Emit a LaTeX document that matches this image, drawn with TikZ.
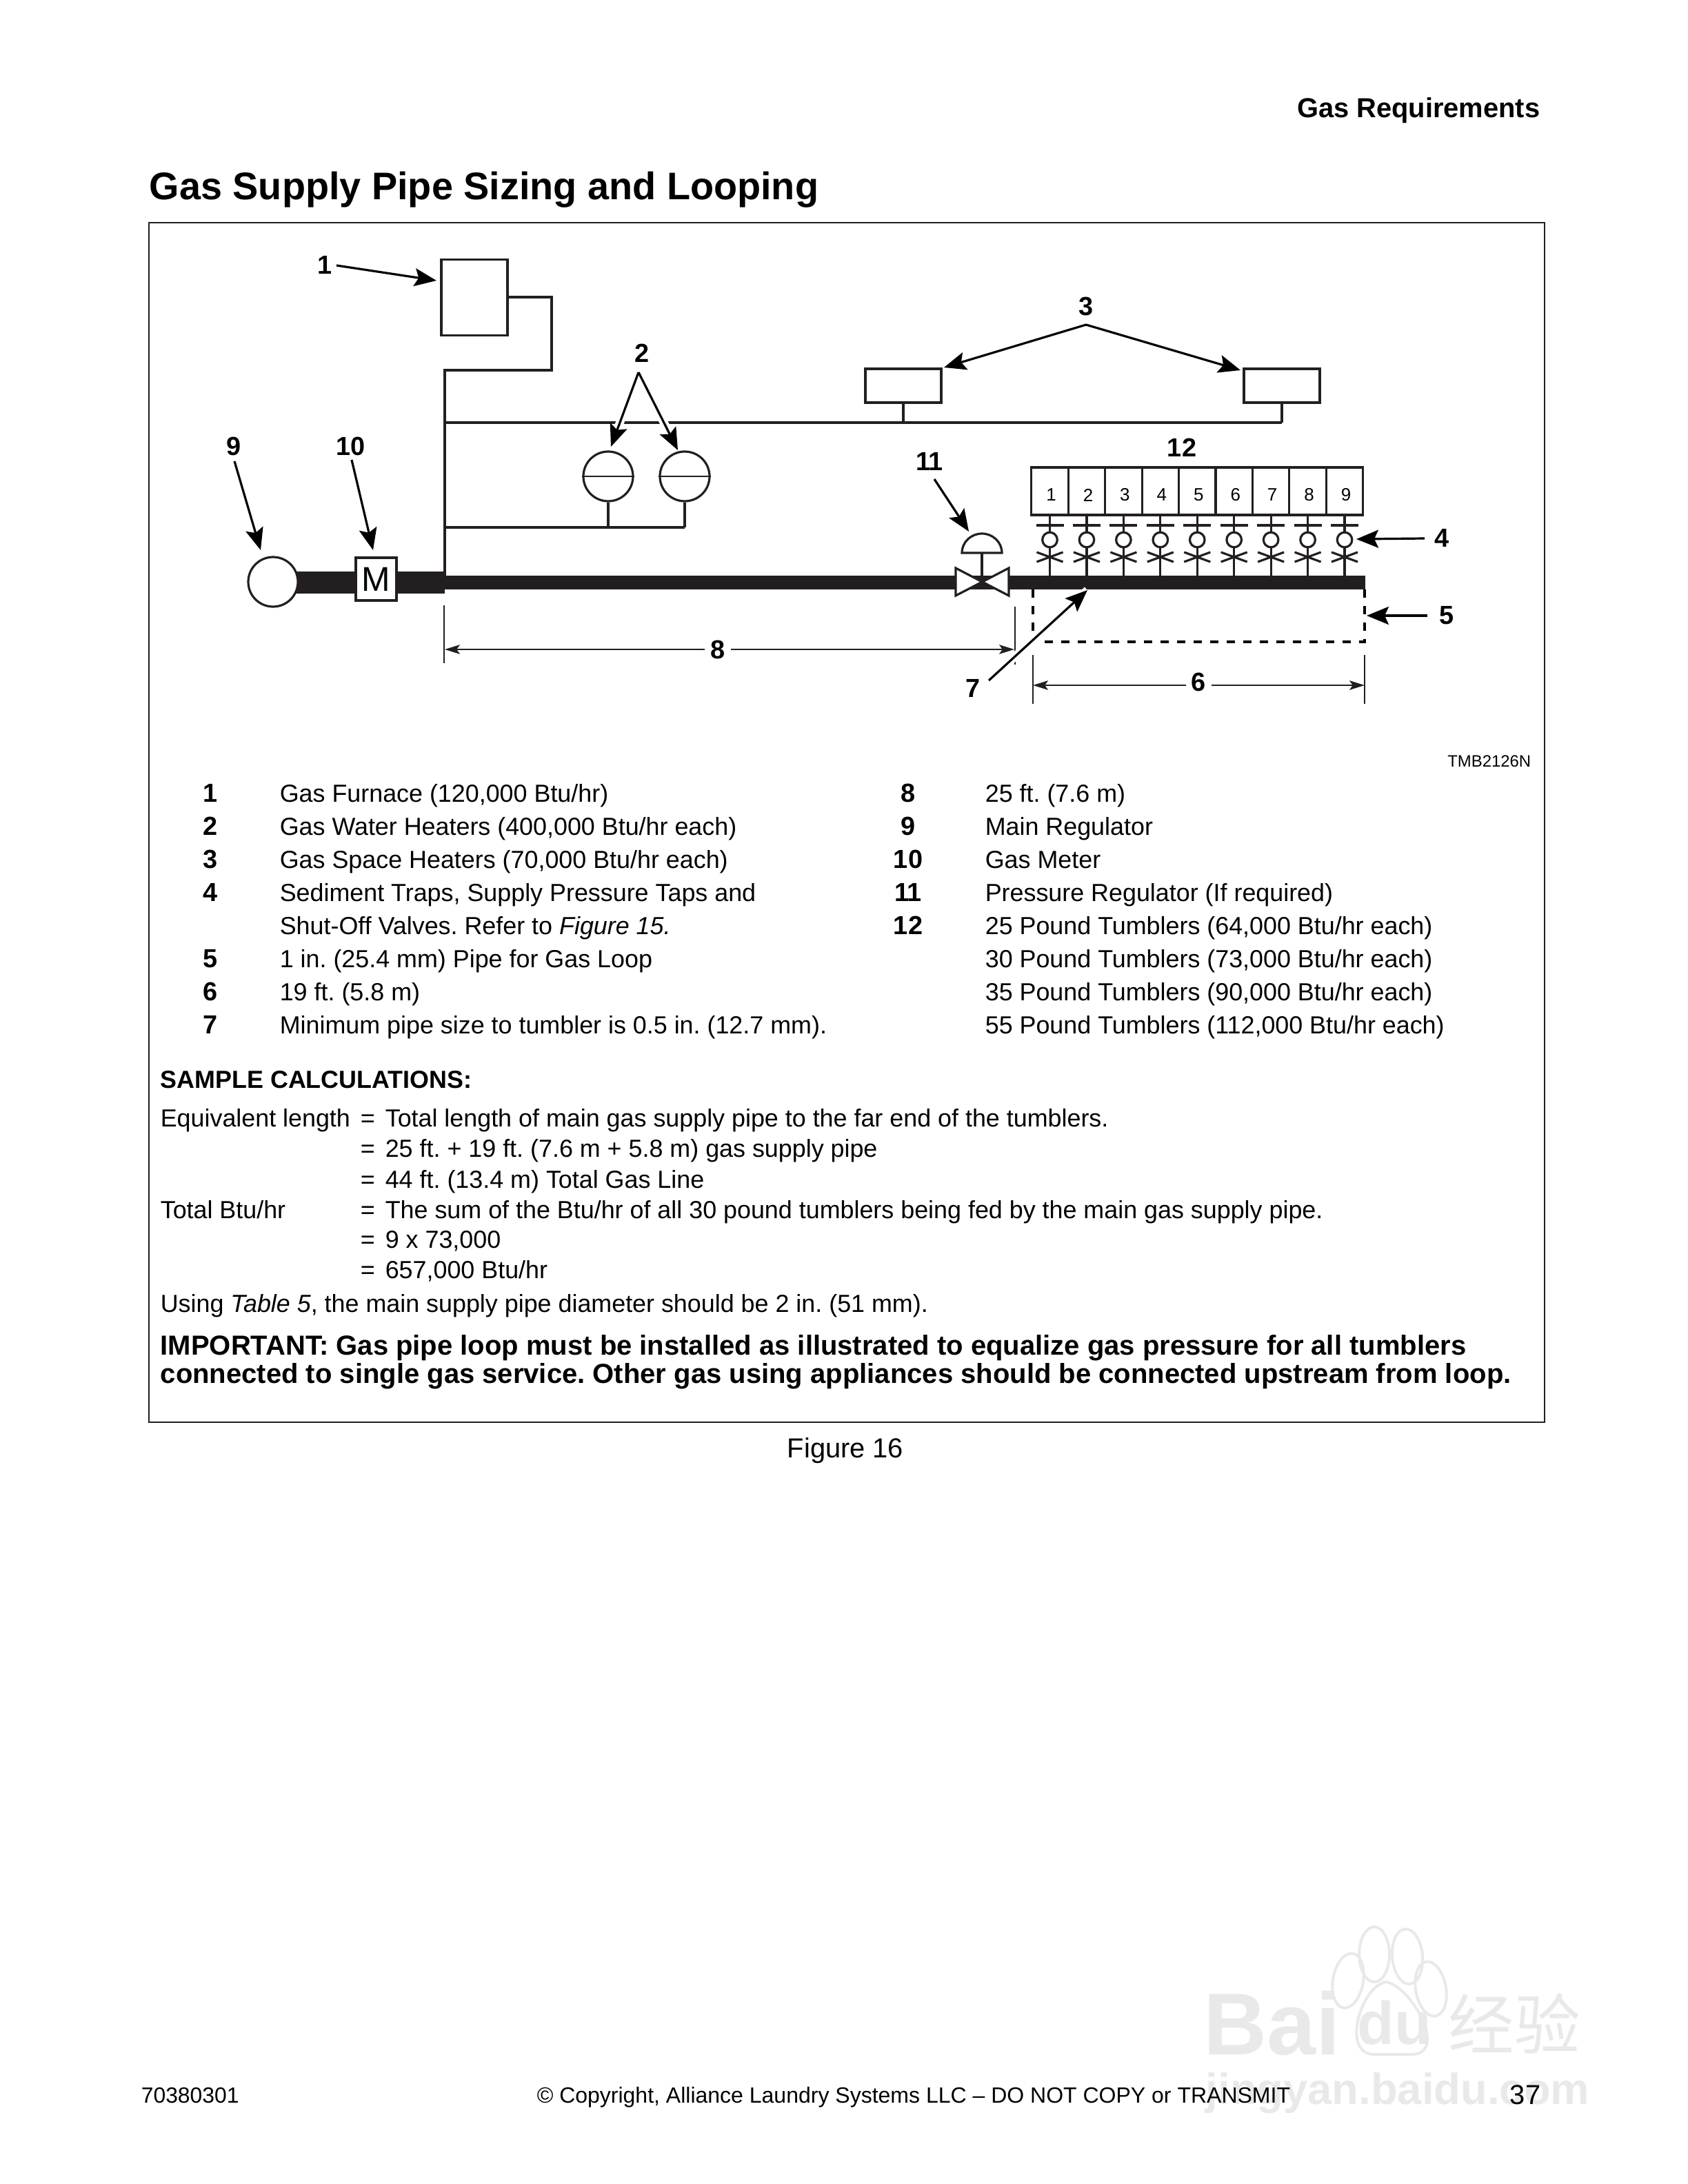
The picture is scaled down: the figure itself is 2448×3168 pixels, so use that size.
\documentclass[tikz,border=0pt]{standalone}
\usepackage{fontspec}
\setmainfont{Liberation Sans}
\newfontfamily\cjkfont{Noto Sans CJK SC}
\usetikzlibrary{
  arrows.meta,
  positioning
}
\definecolor{gsInk}{HTML}{231F20}
\definecolor{gsMark}{HTML}{E9E9E9}
\tikzset{
  pipeline/.style={line width=0.8bp, gsInk},
  thinline/.style={line width=0.5bp, gsInk},
  mainpipe/.style={line width=5bp, gsInk},
  inletpipe/.style={line width=8bp, gsInk},
  looppipe/.style={line width=0.8bp, black, dash pattern=on 3bp off 3bp},
  leader/.style={-{Stealth[length=8bp, width=6.5bp, inset=1.5bp]}, line width=0.8bp, black},
  halo/.style={line width=3bp, white},
  dimend/.style={-{Stealth[length=5.5bp, width=3.4bp, inset=1.2bp]}, thinline},
  unit/.style={draw=gsInk, line width=0.8bp, fill=white, inner sep=0pt},
  heater/.style={unit, circle, minimum size=18bp},
  trap/.style={unit, circle, minimum size=5.4bp},
  callout/.style={font=\fontsize{9.5}{11}\selectfont\bfseries, inner sep=0pt},
  rownum/.style={font=\fontsize{9.5}{11}\selectfont\bfseries, anchor=base, inner sep=0pt},
  rowtext/.style={font=\fontsize{9}{11}\selectfont, anchor=base west, inner sep=0pt},
  boldtext/.style={font=\fontsize{10.04}{11}\selectfont\bfseries, anchor=base west, inner sep=0pt}
}
\frenchspacing
\begin{document}
\begin{tikzpicture}[x=0.25bp, y=-0.25bp]
  \useasboundingbox (0,0) rectangle (2448,3168);
  % watermark
  \node[font=\fontsize{32}{32}\selectfont\bfseries, text=gsMark, anchor=base west, inner sep=0pt] (markbai) at (1745,2980) {Bai};
  \node[font=\fontsize{22}{22}\selectfont\bfseries, text=gsMark, anchor=base west, inner sep=0pt] (markdu) at (1968,2965) {du};
  \node[font=\cjkfont\fontsize{24}{24}\selectfont, text=gsMark, anchor=base west, inner sep=0pt] (markcn) at (2100,2972) {经验};
  \node[font=\fontsize{15.9}{19}\selectfont\bfseries, text=gsMark, anchor=base west, inner sep=0pt] (markurl) at (1748,3052) {jingyan.baidu.com};
  \foreach \x/\y/\r in {1955/2873/-10,1993/2835/0,2041/2838/5,2075/2885/10}{
    \draw[gsMark, line width=1bp, rotate around={\r:(\x,\y)}] (\x,\y) ellipse[x radius=5.5bp, y radius=10bp];
  }
  \draw[gsMark, line width=1bp] (2010,2875) .. controls (1975,2880) and (1945,2975) .. (1990,2980)
    -- (2050,2980) .. controls (2100,2975) and (2045,2880) .. (2010,2875);

  % page texts
  \node[font=\fontsize{10}{12}\selectfont\bfseries, anchor=base east, inner sep=0pt] (pagehead) at (2234,170) {Gas Requirements};
  \node[font=\fontsize{14}{16}\selectfont\bfseries, anchor=base west, inner sep=0pt] (pagetitle) at (216,289) {Gas Supply Pipe Sizing and Looping};
  \draw[thinline] (216,323) rectangle (2240,2063);

  % gas pipes
  \coordinate (teetop) at (645,537);
  \coordinate (teeup) at (645,613);
  \coordinate (teelow) at (645,765);
  \coordinate (teemain) at (645,845);
  \node[unit, minimum width=24bp, minimum height=27.5bp] (furnace) at (688,431.5) {};
  \node[unit, minimum width=27.5bp, minimum height=12.25bp] (spaceA) at (1310,559.5) {};
  \node[unit, minimum width=27.5bp, minimum height=12.25bp] (spaceB) at (1859,559.5) {};
  \draw[pipeline] (furnace.east |- 0,431) -| (800,537) -- (teetop) -- (teemain);
  \draw[pipeline] (teeup) -- (1859,613);
  \draw[pipeline] (spaceA.south) -- (1310,613);
  \draw[pipeline] (spaceB.south) -- (1859,613);
  \draw[inletpipe] (395,845) -- (teemain);
  \draw[mainpipe] (teemain) -- (1980,845);
  \node[heater] (regulator) at (396,844) {};
  \node[unit, minimum width=14.75bp, minimum height=15.5bp, font=\fontsize{12.5}{13}\selectfont] (meter) at (545.5,840) {M};
  \foreach \x/\name in {882/heaterA, 993/heaterB}{
    \node[heater] (\name) at (\x,691) {};
    \draw[thinline] (\name.west) -- (\name.east);
    \draw[pipeline] (\name.south) -- (\x,765);
  }
  \draw[pipeline] (teelow) -- (993,765);

  % tumblers with traps
  \foreach \i in {1,...,9}{
    \pgfmathsetmacro{\tx}{1522.5+53.44*(\i-1)}
    \node[minimum width=13.36bp, minimum height=17.25bp, draw=gsInk, line width=0.8bp, inner sep=0pt] (tumbler\i) at (\tx,712.5) {};
    \node[font=\fontsize{6.5}{7}\selectfont, inner sep=0pt] (tumblernum\i) at (\tx+2,718) {\i};
    \coordinate (tap\i) at (\tx,835);
    \draw[pipeline] (tumbler\i.south) -- (tap\i);
    \draw[pipeline] (\tx-20,762) -- (\tx+20,762);
    \draw[pipeline] (\tx-19,801) -- (\tx+19,815);
    \draw[pipeline] (\tx-19,815) -- (\tx+19,801);
    \node[trap] (trap\i) at (\tx,783) {};
  }

  % pressure regulator
  \coordinate (valvemid) at (1424,844);
  \draw[pipeline, fill=white] (1386,824) -- (1463,864) -- (1463,824) -- (1386,864) -- cycle;
  \draw[pipeline] (valvemid) -- (1424,802);
  \draw[pipeline, fill=white] (1395,802) arc[start angle=180, end angle=0, x radius=7.25bp, y radius=7bp] -- cycle;

  % gas loop
  \draw[looppipe] (1498,855) -- (1498,931);
  \draw[looppipe] (1979,855) -- (1979,931) -- (1514,931);

  % dimensions
  \node[callout] (num8) at (1041,942) {8};
  \node[callout] (num6) at (1738,989) {6};
  \coordinate (dimA) at (645,942);
  \coordinate (dimB) at (1471,942);
  \coordinate (dimC) at (1498,994);
  \coordinate (dimD) at (1979,994);
  \draw[thinline] (644,878) -- (644,962);
  \draw[thinline] (1472,880) -- (1472,964);
  \draw[thinline] (1498,950) -- (1498,1021);
  \draw[thinline] (1979,950) -- (1979,1021);
  \draw[dimend] (1022,942) -- (dimA);
  \draw[dimend] (1060,942) -- (dimB);
  \draw[dimend] (1720,994) -- (dimC);
  \draw[dimend] (1757,994) -- (dimD);

  % callouts
  \node[callout] (num1) at (471,384) {1};
  \node[callout] (num2) at (931,512) {2};
  \node[callout] (num3) at (1575,444) {3};
  \node[callout] (num4) at (2091,780) {4};
  \node[callout] (num5) at (2098,893) {5};
  \node[callout] (num7) at (1411,998) {7};
  \node[callout] (num9) at (339,647) {9};
  \node[callout] (num10) at (509,647) {10};
  \node[callout] (num11) at (1348,669) {11};
  \node[callout] (num12) at (1714,649) {12};
  \coordinate (peak2) at (926,540);
  \coordinate (peak3) at (1575,471);
  \coordinate (tail7) at (1434,987);
  \coordinate (head7) at (1577,856);
  \draw[halo] (peak2) -- (886,648);
  \draw[halo] (peak2) -- (983,653);
  \draw[halo] (tail7) -- (head7);
  \draw[leader] (488,385) -- (633,407);
  \draw[leader] (peak2) -- (886,648);
  \draw[leader] (peak2) -- (983,653);
  \draw[leader] (peak3) -- (1369,533);
  \draw[leader] (peak3) -- (1799,537);
  \draw[leader] (2066,781) -- (1967,782);
  \draw[leader] (2070,893) -- (1982,893);
  \draw[leader] (tail7) -- (head7);
  \draw[leader] (340,669) -- (378,798);
  \draw[leader] (510,667) -- (541,798);
  \draw[leader] (1355,695) -- (1405,771);
  \node[font=\fontsize{6}{7}\selectfont, anchor=base east, inner sep=0pt] (drawingno) at (2221,1112) {TMB2126N};

  % key
  \foreach \y/\n/\txt in {
    1163/1/{Gas Furnace (120,000 Btu/hr)},
    1211/2/{Gas Water Heaters (400,000 Btu/hr each)},
    1259/3/{Gas Space Heaters (70,000 Btu/hr each)},
    1307/4/{Sediment Traps, Supply Pressure Taps and},
    1355//{Shut-Off Valves. Refer to \textit{Figure 15.}},
    1403/5/{1 in. (25.4 mm) Pipe for Gas Loop},
    1451/6/{19 ft. (5.8 m)},
    1499/7/{Minimum pipe size to tumbler is 0.5 in. (12.7 mm).}}{
    \node[rownum] at (305,\y) {\n};
    \node[rowtext] at (405,\y) {\txt};
  }
  \foreach \y/\n/\txt in {
    1163/8/{25 ft. (7.6 m)},
    1211/9/{Main Regulator},
    1259/10/{Gas Meter},
    1307/11/{Pressure Regulator (If required)},
    1355/12/{25 Pound Tumblers (64,000 Btu/hr each)},
    1403//{30 Pound Tumblers (73,000 Btu/hr each)},
    1451//{35 Pound Tumblers (90,000 Btu/hr each)},
    1499//{55 Pound Tumblers (112,000 Btu/hr each)}}{
    \node[rownum] at (1317,\y) {\n};
    \node[rowtext] at (1428,\y) {\txt};
  }

  % sample calculations
  \node[boldtext, font=\fontsize{9}{11}\selectfont\bfseries] (calchead) at (232,1578) {SAMPLE CALCULATIONS:};
  \node[rowtext] (equiv) at (232,1634) {Equivalent length};
  \node[rowtext] (totbtu) at (232,1767) {Total Btu/hr};
  \foreach \y/\txt in {
    1634/{Total length of main gas supply pipe to the far end of the tumblers.},
    1678/{25 ft. + 19 ft. (7.6 m + 5.8 m) gas supply pipe},
    1723/{44 ft. (13.4 m) Total Gas Line},
    1767/{The sum of the Btu/hr of all 30 pound tumblers being fed by the main gas supply pipe.},
    1810/{9 x 73,000},
    1854/{657,000 Btu/hr}}{
    \node[rowtext] at (522,\y) {=};
    \node[rowtext] at (558,\y) {\txt};
  }
  \node[rowtext] (tablenote) at (232,1903) {Using \textit{Table 5}, the main supply pipe diameter should be 2 in. (51 mm).};
  \node[boldtext] (importantA) at (232,1965) {IMPORTANT: Gas pipe loop must be installed as illustrated to equalize gas pressure for all tumblers};
  \node[boldtext] (importantB) at (232,2006) {connected to single gas service. Other gas using appliances should be connected upstream from loop.};
  \node[font=\fontsize{10}{12}\selectfont, anchor=base, inner sep=0pt] (figcaption) at (1226,2114) {Figure 16};

  % footer
  \node[font=\fontsize{8}{10}\selectfont, anchor=base west, inner sep=0pt] (docno) at (204,3050) {70380301};
  \node[font=\fontsize{8.03}{10}\selectfont, anchor=base west, inner sep=0pt] (copyline) at (778,3050) {© Copyright, Alliance Laundry Systems LLC – DO NOT COPY or TRANSMIT};
  \node[font=\fontsize{10}{12}\selectfont, anchor=base, inner sep=0pt] (pageno) at (2212,3052) {37};
\end{tikzpicture}
\end{document}
